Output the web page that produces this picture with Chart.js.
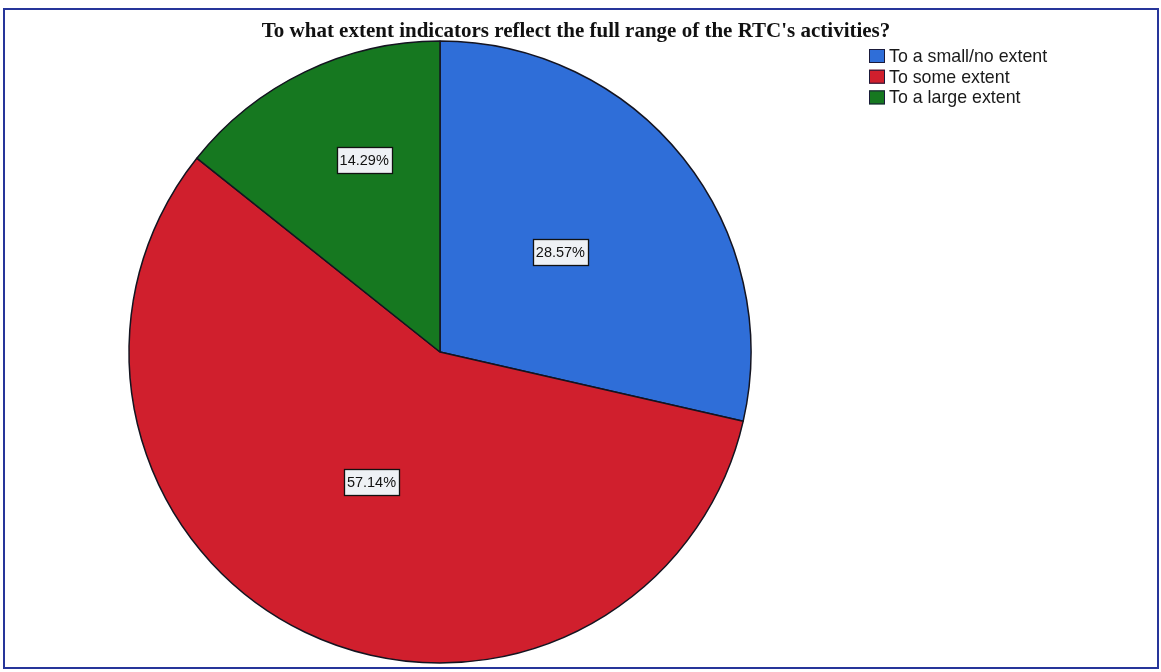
<!DOCTYPE html>
<html>
<head>
<meta charset="utf-8">
<title>RTC indicators</title>
<script src="https://cdn.jsdelivr.net/npm/chart.js@4/dist/chart.umd.min.js"></script>
<style>
  html, body { margin: 0; padding: 0; background: #ffffff; }
  #wrap { position: relative; width: 1161px; height: 672px; }
  #frame {
    position: absolute; left: 3px; top: 8px; width: 1152px; height: 657px;
    border: 2px solid #26359a; pointer-events: none;
  }
  canvas { position: absolute; left: 0; top: 0; }
</style>
</head>
<body>
<div id="wrap">
  <canvas id="chart" width="1161" height="672"></canvas>
  <div id="frame"></div>
</div>
<script>
// Survey answers: share of respondents per category (percent)
const chartTitle = "To what extent indicators reflect the full range of the RTC's activities?";
const categories = ["To a small/no extent", "To some extent", "To a large extent"];
const percentages = [28.57, 57.14, 14.29];
const sliceColors = ["#2f6ed8", "#d01f2d", "#167820"];

// Boxed percentage labels placed inside each slice.
// place[i] = [fraction along the slice's sweep, fraction of the radius]
const sliceLabels = {
  id: 'sliceLabels',
  afterDatasetsDraw(chart, args, opts) {
    const ctx = chart.ctx;
    const meta = chart.getDatasetMeta(0);
    const values = chart.data.datasets[0].data;
    ctx.save();
    ctx.font = opts.font;
    ctx.textAlign = 'center';
    ctx.textBaseline = 'middle';
    meta.data.forEach((arc, i) => {
      const p = arc.getProps(['x', 'y', 'startAngle', 'endAngle', 'outerRadius'], true);
      const [af, rf] = opts.place[i];
      const ang = p.startAngle + (p.endAngle - p.startAngle) * af;
      const r = p.outerRadius * rf;
      const cx = p.x + Math.cos(ang) * r;
      const cy = p.y + Math.sin(ang) * r;
      const text = values[i].toFixed(2) + '%';
      const w = Math.round(ctx.measureText(text).width + 6);
      const h = 26;
      const bx = Math.round(cx - w / 2), by = Math.round(cy - h / 2);
      ctx.fillStyle = '#eef1f5';
      ctx.fillRect(bx, by, w, h);
      ctx.strokeStyle = '#111111';
      ctx.lineWidth = 1.3;
      ctx.strokeRect(bx + 0.5, by + 0.5, w, h);
      ctx.fillStyle = '#111111';
      ctx.fillText(text, cx, cy + 1);
    });
    ctx.restore();
  }
};

// Title and legend drawn on the same canvas
const headerAndKey = {
  id: 'headerAndKey',
  afterDraw(chart, args, opts) {
    const ctx = chart.ctx;
    ctx.save();
    ctx.font = opts.titleFont;
    ctx.fillStyle = '#111111';
    ctx.textAlign = 'center';
    ctx.textBaseline = 'alphabetic';
    ctx.fillText(opts.title, opts.titleX, opts.titleY);

    const colors = chart.data.datasets[0].backgroundColor;
    ctx.font = opts.keyFont;
    ctx.textAlign = 'left';
    ctx.textBaseline = 'middle';
    chart.data.labels.forEach((lab, i) => {
      const y = opts.keyY + i * opts.keyStep;
      ctx.fillStyle = colors[i];
      ctx.fillRect(opts.keyX, y - 7, 16, 14);
      ctx.strokeStyle = '#1a1a3a';
      ctx.lineWidth = 1;
      ctx.strokeRect(opts.keyX + 0.5, y - 6.5, 15, 13);
      ctx.fillStyle = '#1a1a1a';
      ctx.fillText(lab, opts.keyX + 20, y + 1);
    });
    ctx.restore();
  }
};

new Chart(document.getElementById('chart'), {
  type: 'pie',
  data: {
    labels: categories,
    datasets: [{
      data: percentages,
      backgroundColor: sliceColors,
      borderColor: '#141420',
      borderWidth: 1.5
    }]
  },
  options: {
    responsive: false,
    animation: false,
    radius: 311,
    layout: { padding: { left: 0, right: 281, top: 32, bottom: 0 } },
    plugins: {
      legend: { display: false },
      title: { display: false },
      tooltip: { enabled: false },
      sliceLabels: {
        font: '14.5px "Liberation Sans", Arial, sans-serif',
        place: [[0.488, 0.504], [0.51, 0.473], [0.582, 0.665]]
      },
      headerAndKey: {
        title: chartTitle,
        titleFont: 'bold 21px "Liberation Serif", "Times New Roman", serif',
        titleX: 576,
        titleY: 37,
        keyFont: '17.8px "Liberation Sans", Arial, sans-serif',
        keyX: 869,
        keyY: 56,
        keyStep: 20.7
      }
    }
  },
  plugins: [sliceLabels, headerAndKey]
});
</script>
</body>
</html>
